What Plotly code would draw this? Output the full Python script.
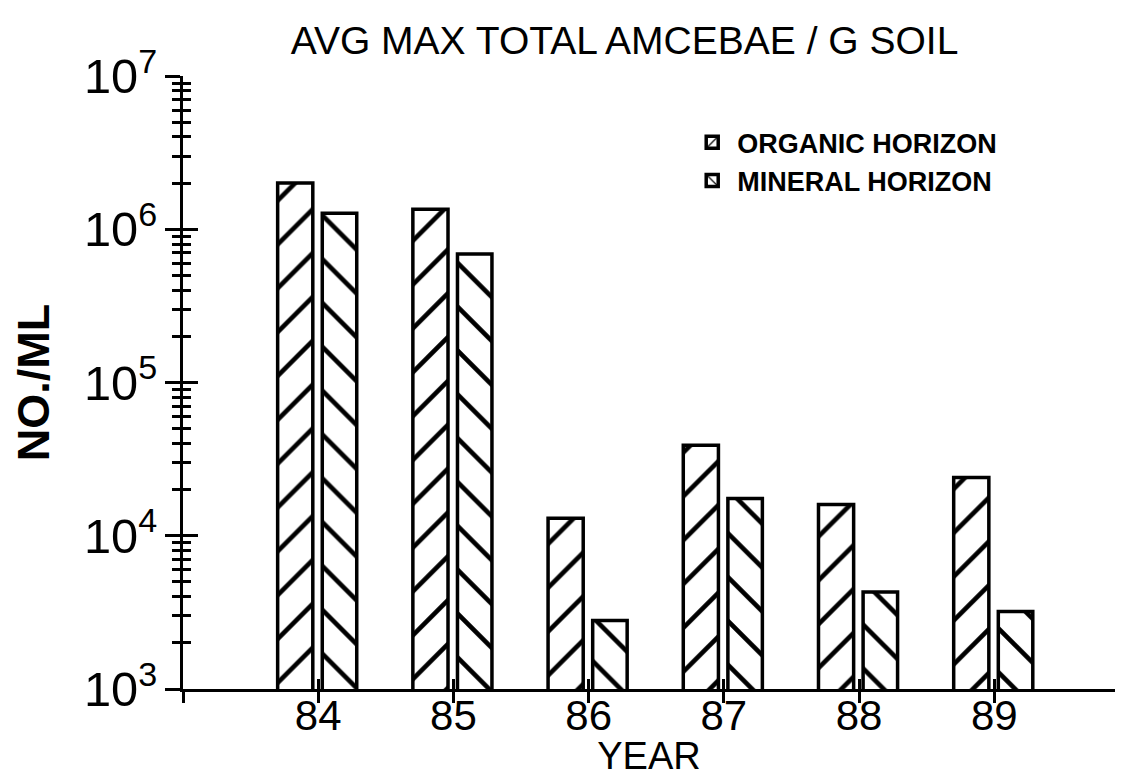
import plotly.graph_objects as go

years = [84, 85, 86, 87, 88, 89]
year_labels = ["84", "85", "86", "87", "88", "89"]
organic = [2.0e6, 1.35e6, 1.3e4, 3.9e4, 1.6e4, 2.4e4]
mineral = [1.27e6, 6.9e5, 2.8e3, 1.75e4, 4.3e3, 3.2e3]

FONT = "Liberation Sans, Arial, sans-serif"
XRANGE = [83, 89.893]

fig = go.Figure()
fig.add_trace(go.Bar(
    x=years, y=organic, name="ORGANIC HORIZON",
    width=0.26, offset=-0.30,
    marker=dict(color="white", line=dict(color="black", width=3.5),
                pattern=dict(shape="/", fgcolor="black", bgcolor="white", fgopacity=1,
                             size=31, solidity=0.15)),
))
fig.add_trace(go.Bar(
    x=years, y=mineral, name="MINERAL HORIZON",
    width=0.255, offset=0.03,
    marker=dict(color="white", line=dict(color="black", width=3.5),
                pattern=dict(shape="\\", fgcolor="black", bgcolor="white", fgopacity=1,
                             size=31, solidity=0.15)),
))
# invisible trace to host the overlay axes that draw the other halves of the ticks
fig.add_trace(go.Scatter(x=years, y=organic, mode="markers", marker=dict(opacity=0),
                         xaxis="x2", yaxis="y2", showlegend=False, hoverinfo="skip"))

fig.update_layout(
    width=1107, height=769,
    margin=dict(l=175, r=0, t=68, b=88, autoexpand=False),
    paper_bgcolor="white", plot_bgcolor="white",
    font=dict(family=FONT, color="black"),
    title=dict(text="AVG MAX TOTAL AMCEBAE / G SOIL", x=0.557, xanchor="center",
               y=0.958, yanchor="middle", font=dict(size=39, family=FONT)),
    barmode="group",
    showlegend=True,
    legend=dict(x=0.541, y=0.931, xanchor="left", yanchor="top",
                font=dict(size=27, family=FONT, weight="bold"),
                bgcolor="rgba(0,0,0,0)", tracegroupgap=0, itemwidth=40),
    xaxis=dict(range=XRANGE, tickvals=years, ticktext=year_labels, automargin=False,
               ticks="inside", ticklen=10, tickwidth=3, tickcolor="black", ticklabelstandoff=-12,
               showline=True, linewidth=3, linecolor="black", showgrid=False, zeroline=False,
               tickfont=dict(size=42), title=dict(text="YEAR", font=dict(size=38), standoff=18)),
    yaxis=dict(type="log", range=[3, 7], dtick=1, exponentformat="power", showexponent="all",
               automargin=False,
               ticks="outside", ticklen=15, tickwidth=3, tickcolor="black",
               minor=dict(ticks="outside", ticklen=8, tickwidth=3, tickcolor="black", dtick="D1", showgrid=False),
               showline=True, linewidth=3, linecolor="black", showgrid=False, zeroline=False,
               tickfont=dict(size=39),
               title=dict(text="NO./ML", font=dict(size=45, weight="bold"), standoff=24)),
    xaxis2=dict(overlaying="x", anchor="y2", range=XRANGE, tickvals=[83] + years, automargin=False,
                ticks="outside", ticklen=13, tickwidth=3, tickcolor="black",
                showticklabels=False, showline=False, showgrid=False, zeroline=False),
    yaxis2=dict(overlaying="y", anchor="x2", side="left", type="log", range=[3, 7], dtick=1,
                automargin=False,
                ticks="inside", ticklen=15, tickwidth=3, tickcolor="black",
                minor=dict(ticks="inside", ticklen=8, tickwidth=3, tickcolor="black", dtick="D1", showgrid=False),
                showticklabels=False, showline=False, showgrid=False, zeroline=False),
)

fig.write_html("out.html")
